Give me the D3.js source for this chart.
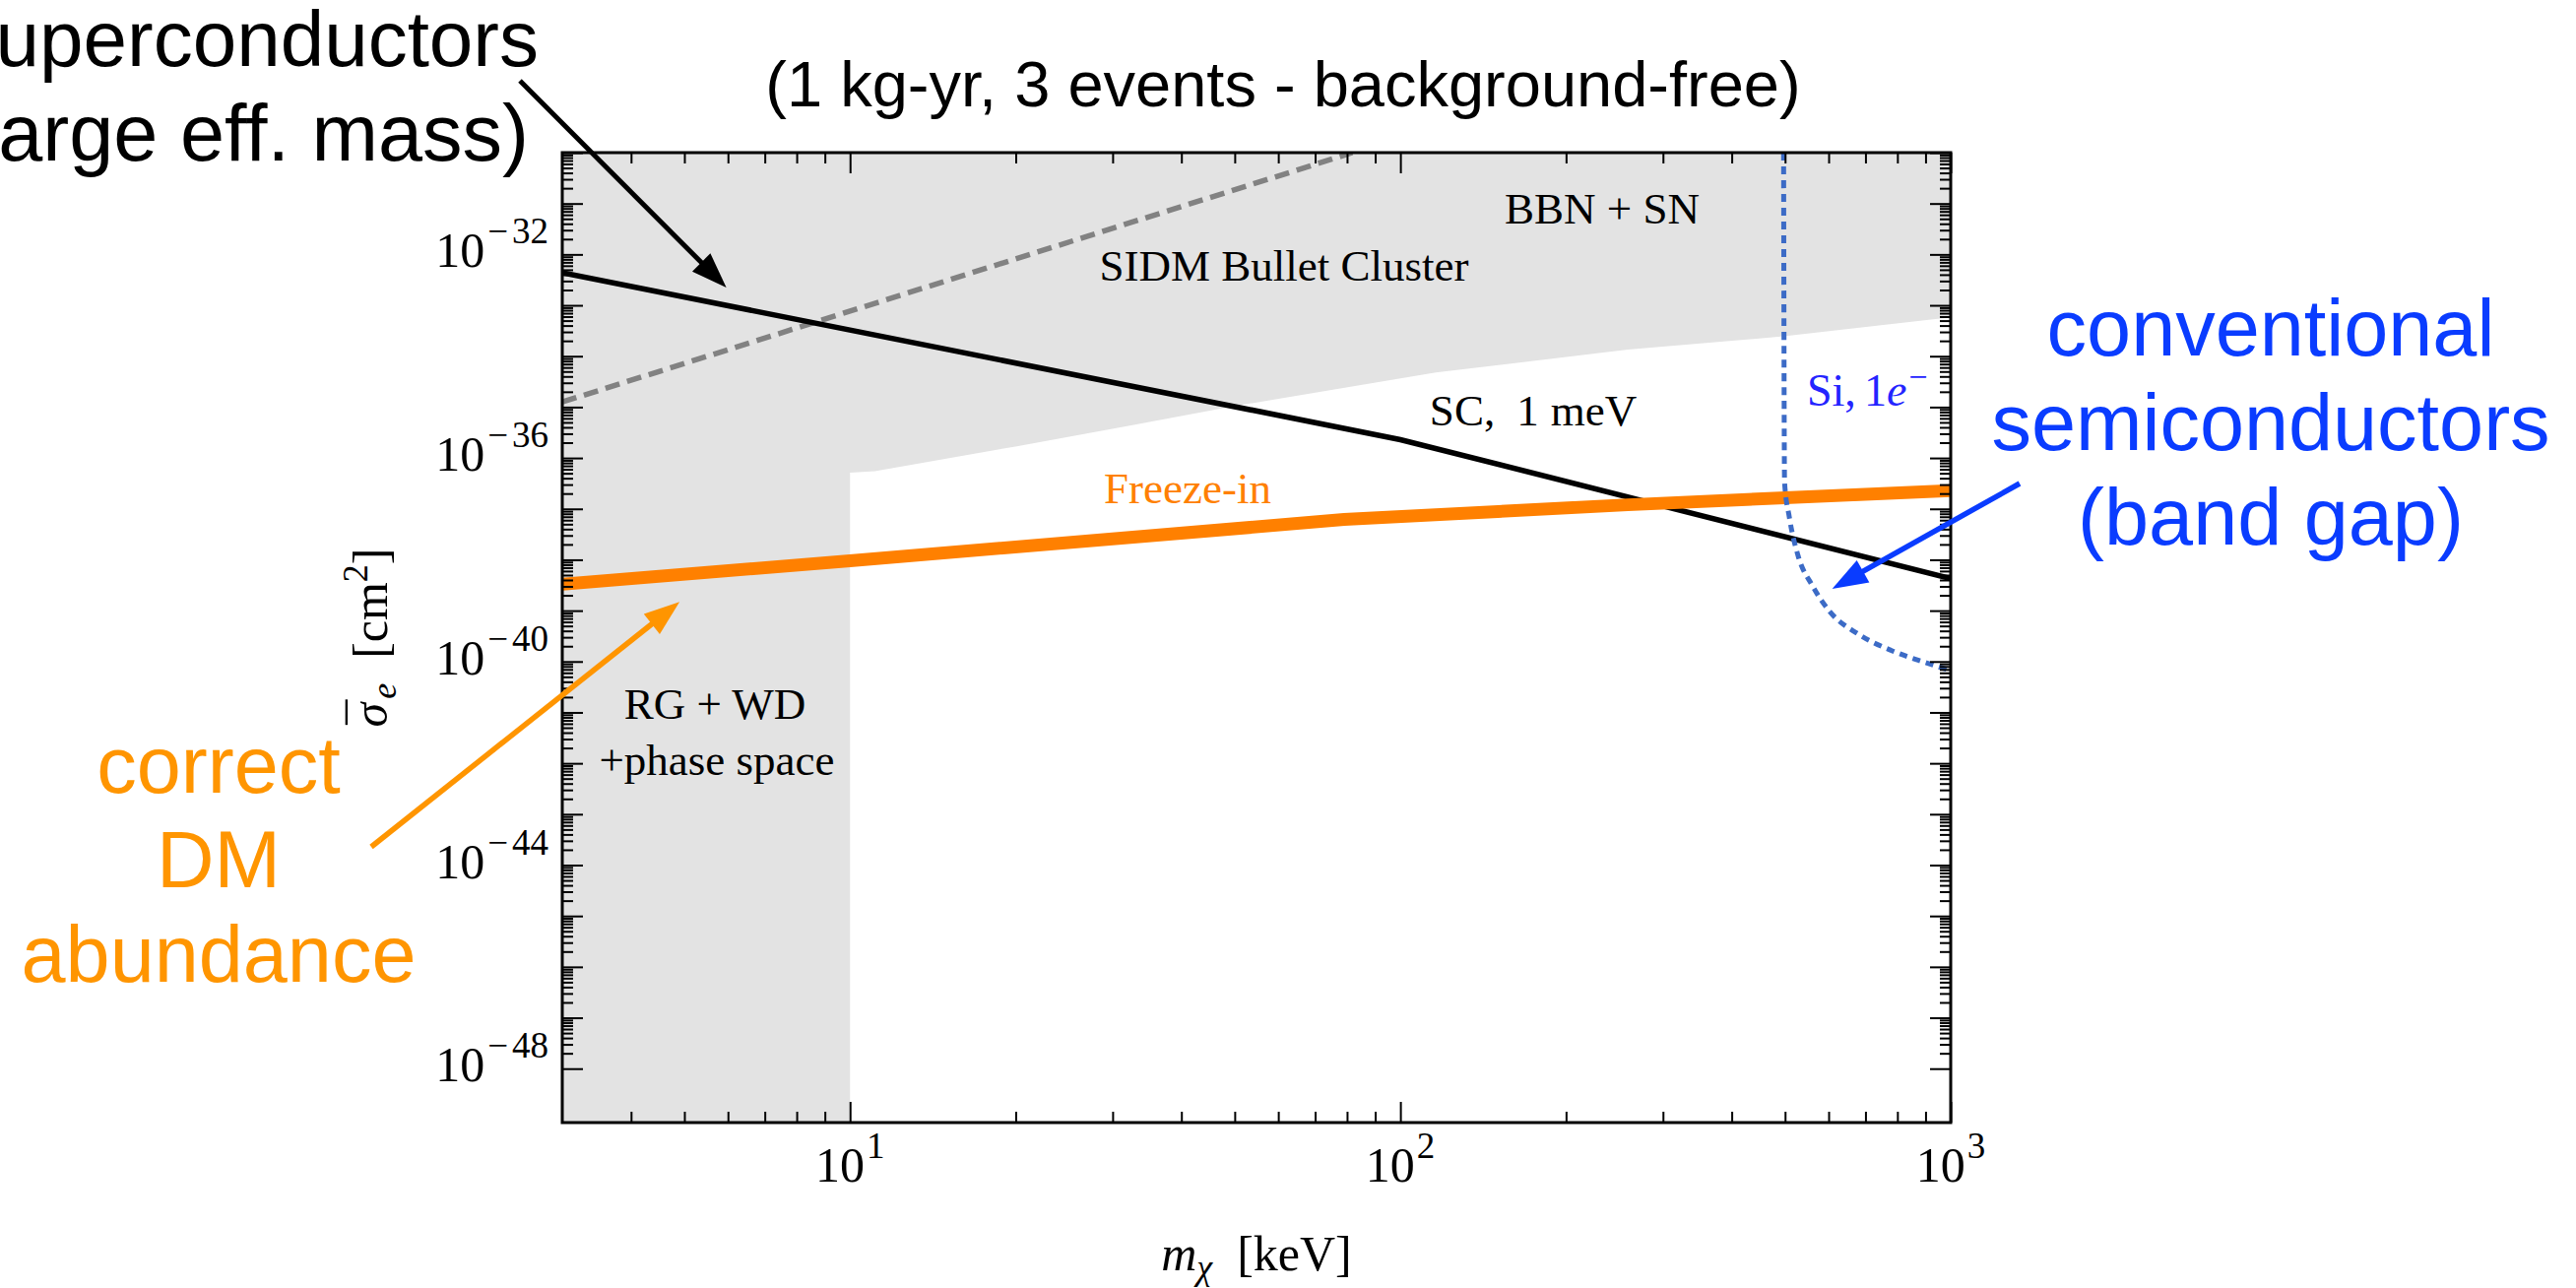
<!DOCTYPE html>
<html>
<head>
<meta charset="utf-8">
<script src="https://cdn.jsdelivr.net/npm/d3@7"></script>
<style>
  html, body { margin: 0; padding: 0; background: #fff; }
  svg { display: block; }
  .math { font-family: "Liberation Serif", "Times New Roman", serif; }
  .sans { font-family: "Liberation Sans", Arial, sans-serif; }
</style>
</head>
<body>
<svg id="chart" width="2616" height="1308"></svg>
<script>
// ---- axes: dark-matter mass (keV) and log10 of the reference cross section (cm^2)
const massDomain = [3, 1000];
const sigmaExpDomain = [-49.06, -30];
const xMajorTicks = [10, 100, 1000];
const xLabelExps = [1, 2, 3];
const yLabelExps = [-32, -36, -40, -44, -48];

// lower edge of the excluded (BBN + SN / SIDM) region above 10 keV
const boundaryMass = [10, 11.1, 20.1, 32.4, 50.6, 116, 259, 497, 955, 1000];
const boundaryExp  = [-36.29, -36.26, -35.77, -35.36, -34.97, -34.32, -33.87, -33.61, -33.26, -33.24];
// RG + WD + phase space: everything below this mass is excluded
const stellarMassLimit = 10;

// superconductor reach, 1 meV threshold
const scMass = [3, 100, 1000];
const scExp  = [-32.36, -35.64, -38.37];

// freeze-in target
const freezeMass = [3, 10, 79, 259, 1000];
const freezeExp  = [-38.48, -38.02, -37.21, -36.92, -36.64];

// SIDM Bullet Cluster bound
const sidmMass = [3, 81.8];
const sidmExp  = [-34.90, -30];

// silicon, single-electron threshold
const siMass = [497, 499, 509, 528, 560, 603, 679, 783, 906, 1000];
const siExp  = [-30, -36.48, -37.16, -37.92, -38.50, -39.02, -39.46, -39.79, -40.03, -40.18];

// annotation arrow tips (data coordinates)
const scArrowTip = [5.96, -32.65];
const freezeArrowTip = [4.90, -38.83];
const siArrowTip = [609, -38.57];

const svg = d3.select("#chart");
const W = 2616, H = 1308;
const plot = { left: 571, right: 1981, top: 155, bottom: 1140 };

svg.append("rect").attr("width", W).attr("height", H).attr("fill", "#fff");

const x = d3.scaleLog().domain(massDomain).range([plot.left, plot.right]);
const y = d3.scaleLog().domain(sigmaExpDomain.map(e => 10 ** e)).range([plot.bottom, plot.top]);
const yE = e => y(10 ** e);

svg.append("defs").append("clipPath").attr("id", "plotClip")
  .append("rect")
  .attr("x", plot.left).attr("y", plot.top)
  .attr("width", plot.right - plot.left).attr("height", plot.bottom - plot.top);

const g = svg.append("g").attr("clip-path", "url(#plotClip)");

// excluded region
const yTopExp = sigmaExpDomain[1], yBotExp = sigmaExpDomain[0];
const regionPts = [
  [massDomain[0], yTopExp],
  [massDomain[0], yBotExp],
  [stellarMassLimit, yBotExp],
  ...boundaryMass.map((m, i) => [m, boundaryExp[i]]),
  [massDomain[1], yTopExp]
];
g.append("path")
  .attr("d", d3.line().x(d => x(d[0])).y(d => yE(d[1]))(regionPts) + "Z")
  .attr("fill", "#e3e3e3");

// curves
const lineGen = d3.line().x(d => x(d[0])).y(d => yE(d[1]));
const zip = (a, b) => a.map((v, i) => [v, b[i]]);

g.append("path").attr("d", lineGen(zip(sidmMass, sidmExp)))
  .attr("fill", "none").attr("stroke", "#828282").attr("stroke-width", 5.5)
  .attr("stroke-dasharray", "15,8");

g.append("path").attr("d", lineGen(zip(scMass, scExp)))
  .attr("fill", "none").attr("stroke", "#000").attr("stroke-width", 5.5);

g.append("path").attr("d", lineGen(zip(freezeMass, freezeExp)))
  .attr("fill", "none").attr("stroke", "#ff8000").attr("stroke-width", 13);

g.append("path")
  .attr("d", d3.line().x(d => x(d[0])).y(d => yE(d[1])).curve(d3.curveMonotoneX)(zip(siMass, siExp)))
  .attr("fill", "none").attr("stroke", "#3c6bc6").attr("stroke-width", 5)
  .attr("stroke-dasharray", "8,6");

// ---- ticks on all four sides (inward)
const xMinor = [];
for (let p = 0; p <= 2; p++) for (let k = 2; k <= 9; k++) {
  const v = k * 10 ** p;
  if (v > massDomain[0] && v < massDomain[1]) xMinor.push(v);
}
const yMajor = d3.range(-48, -29).map(e => 10 ** e);
const yMinor = [];
for (let e = -48; e <= -31; e++) for (let k = 2; k <= 9; k++) yMinor.push(k * 10 ** e);

function tickSet(gen, values, size, tr) {
  svg.append("g").attr("transform", tr)
    .call(gen.tickValues(values).tickSize(size).tickFormat(""))
    .call(s => s.select(".domain").remove())
    .call(s => s.selectAll("line").attr("stroke", "#000").attr("stroke-width", 2));
}
tickSet(d3.axisBottom(x), xMajorTicks, -21, `translate(0,${plot.bottom})`);
tickSet(d3.axisBottom(x), xMinor, -11, `translate(0,${plot.bottom})`);
tickSet(d3.axisTop(x), xMajorTicks, -21, `translate(0,${plot.top})`);
tickSet(d3.axisTop(x), xMinor, -11, `translate(0,${plot.top})`);
tickSet(d3.axisLeft(y), yMajor, -21, `translate(${plot.left},0)`);
tickSet(d3.axisLeft(y), yMinor, -11, `translate(${plot.left},0)`);
tickSet(d3.axisRight(y), yMajor, -21, `translate(${plot.right},0)`);
tickSet(d3.axisRight(y), yMinor, -11, `translate(${plot.right},0)`);

// frame
svg.append("rect")
  .attr("x", plot.left).attr("y", plot.top)
  .attr("width", plot.right - plot.left).attr("height", plot.bottom - plot.top)
  .attr("fill", "none").attr("stroke", "#000").attr("stroke-width", 3);

// ---- tick labels: 10 with a raised exponent
function powLabel(sel, exp) {
  sel.append("tspan").text("10");
  if (exp < 0) {
    sel.append("tspan").attr("dx", 3).attr("dy", -24).attr("font-size", 37).text("\u2212");
    sel.append("tspan").attr("dx", 4).attr("font-size", 37).text(String(Math.abs(exp)));
  } else {
    sel.append("tspan").attr("dx", 2).attr("dy", -24).attr("font-size", 37).text(String(exp));
  }
}
xMajorTicks.forEach((v, i) => {
  const t = svg.append("text").attr("class", "math")
    .attr("x", x(v)).attr("y", 1200).attr("font-size", 50)
    .attr("text-anchor", "middle");
  powLabel(t, xLabelExps[i]);
});
yLabelExps.forEach(e => {
  const t = svg.append("text").attr("class", "math")
    .attr("x", 557).attr("y", yE(e) + 13).attr("font-size", 50)
    .attr("text-anchor", "end");
  powLabel(t, e);
});

// axis titles
const xt = svg.append("text").attr("class", "math").attr("font-size", 50)
  .attr("x", (plot.left + plot.right) / 2).attr("y", 1290).attr("text-anchor", "middle");
xt.append("tspan").attr("font-style", "italic").text("m");
xt.append("tspan").attr("font-style", "italic").attr("font-size", 36).attr("dy", 9).text("\u03C7");
xt.append("tspan").attr("dy", -9).text("\u2002[keV]");

const yt = svg.append("text").attr("class", "math").attr("font-size", 50)
  .attr("transform", `translate(393,${(plot.top + plot.bottom) / 2}) rotate(-90)`)
  .attr("text-anchor", "middle");
yt.append("tspan").attr("font-style", "italic").text("\u03C3");
yt.append("tspan").attr("dx", -22).attr("dy", -4).text("\u00AF");
yt.append("tspan").attr("font-style", "italic").attr("font-size", 36).attr("dx", 1).attr("dy", 13).text("e");
yt.append("tspan").attr("dy", -9).text("\u2002[cm");
yt.append("tspan").attr("font-size", 36).attr("dy", -20).text("2");
yt.append("tspan").attr("dy", 20).text("]");

// ---- labels inside the plot
function mathLabel(txt, cx, by, color) {
  return svg.append("text").attr("class", "math").attr("font-size", 45)
    .attr("x", cx).attr("y", by).attr("text-anchor", "middle")
    .attr("fill", color || "#000").text(txt);
}
mathLabel("BBN + SN", 1627, 227);
mathLabel("SIDM Bullet Cluster", 1304, 285);
mathLabel("Freeze-in", 1206, 511, "#ff8000");
mathLabel("RG + WD", 726, 730);
mathLabel("+phase space", 728, 787);

const sc = svg.append("text").attr("class", "math").attr("font-size", 45)
  .attr("x", 1557).attr("y", 432).attr("text-anchor", "middle");
sc.append("tspan").text("SC,");
sc.append("tspan").attr("dx", 22).text("1");
sc.append("tspan").attr("dx", 12).text("meV");

const si = svg.append("text").attr("class", "math").attr("font-size", 46)
  .attr("x", 1835).attr("y", 412).attr("fill", "#2424ff");
si.append("tspan").text("Si,");
si.append("tspan").attr("dx", 8).text("1");
si.append("tspan").attr("font-style", "italic").text("e");
si.append("tspan").attr("font-size", 34).attr("dx", 2).attr("dy", -18).text("\u2212");

// ---- annotations
svg.append("text").attr("class", "sans").attr("font-size", 65)
  .attr("x", 1303).attr("y", 108).attr("text-anchor", "middle")
  .text("(1 kg-yr, 3 events - background-free)");

function block(lines, cx, by, color, anchor, size) {
  const t = svg.append("text").attr("class", "sans").attr("font-size", size || 81)
    .attr("fill", color).attr("text-anchor", anchor || "middle");
  lines.forEach((l, i) => t.append("tspan").attr("x", cx).attr("y", by + i * 96).text(l));
}
block(["superconductors"], 547, 67, "#000", "end", 80);
block(["(large eff. mass)"], 537, 163, "#000", "end", 81);
block(["conventional", "semiconductors", "(band gap)"], 2306, 361, "#0a3cff");
block(["correct", "DM", "abundance"], 222, 805, "#ff9500");

// arrows
function arrow(x0, y0, tip, color, w) {
  const x1 = x(tip[0]), y1 = yE(tip[1]);
  const ang = Math.atan2(y1 - y0, x1 - x0);
  const L = 36, Wd = 13;
  const bx = x1 - L * Math.cos(ang), by = y1 - L * Math.sin(ang);
  svg.append("line").attr("x1", x0).attr("y1", y0)
    .attr("x2", bx + 4 * Math.cos(ang)).attr("y2", by + 4 * Math.sin(ang))
    .attr("stroke", color).attr("stroke-width", w);
  const px = -Math.sin(ang), py = Math.cos(ang);
  svg.append("path")
    .attr("d", `M${x1},${y1}L${bx + Wd * px},${by + Wd * py}L${bx - Wd * px},${by - Wd * py}Z`)
    .attr("fill", color);
}
arrow(528, 82, scArrowTip, "#000", 5);
arrow(377, 860, freezeArrowTip, "#ff9500", 5.5);
arrow(2051, 491, siArrowTip, "#0a3cff", 5.5);
</script>
</body>
</html>
